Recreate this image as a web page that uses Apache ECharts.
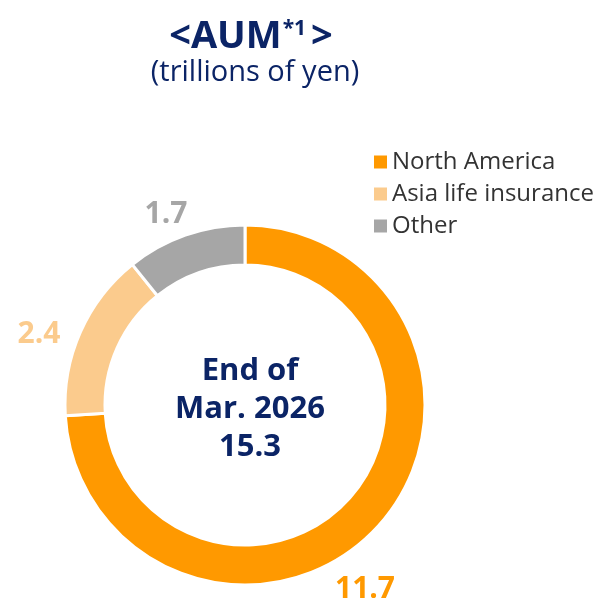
<!DOCTYPE html>
<html><head><meta charset="utf-8">
<script src="https://cdn.jsdelivr.net/npm/echarts@6/dist/echarts.min.js"></script>
<style>html,body{margin:0;padding:0;background:#fff}#c{width:602px;height:603px}</style>
</head><body><div id="c"></div>
<script>
const categories = ['North America', 'Asia life insurance', 'Other'];
const values = [11.7, 2.4, 1.7];
const colors = ['#FF9900', '#FBCB8D', '#A6A6A6'];
const centerLines = ['End of', 'Mar. 2026', '15.3'];
const titleMain = '<AUM';
const titleSup = '*1';
const subtitle = '(trillions of yen)';

const labelPos = [[365, 589], [39, 334], [166, 214]];
const navy = '#0B2466';
const font = '"Open Sans", "Noto Sans", sans-serif';

const chart = echarts.init(document.getElementById('c'));
chart.setOption({
  animation: false,
  title: [{
    text: '{a|' + titleMain + '}{s|' + titleSup + '}{a|>}',
    left: 246, top: 3, textAlign: 'center',
    textStyle: { rich: {
      a: { fontFamily: font, fontSize: 38, fontWeight: 'bold', color: navy, verticalAlign: 'bottom', lineHeight: 48 },
      s: { fontFamily: font, fontSize: 21, fontWeight: 'bold', color: navy, verticalAlign: 'bottom', lineHeight: 24, padding: [0, 5, 16, 1] }
    } }
  }, {
    text: subtitle, left: 250, top: 53, textAlign: 'center',
    textStyle: { fontFamily: font, fontSize: 29, fontWeight: 'normal', color: navy }
  }, {
    text: centerLines.join('\n'), left: 245, top: 347, textAlign: 'center',
    textStyle: { fontFamily: font, fontSize: 31, fontWeight: 'bold', color: navy, lineHeight: 38 }
  }],
  legend: {
    orient: 'vertical', left: 367, top: 145,
    icon: 'rect', itemWidth: 15, itemHeight: 15, itemGap: 8,
    textStyle: { fontFamily: font, fontSize: 24, color: '#333', padding: [0, 0, 0, -1] },
    data: categories
  },
  series: [{
    type: 'pie',
    center: [245, 405],
    radius: [140, 180],
    startAngle: 90,
    clockwise: true,
    avoidLabelOverlap: false,
    itemStyle: { borderColor: '#fff', borderWidth: 3 },
    label: {
      show: true, position: 'outside',
      fontFamily: font, fontSize: 30, fontWeight: 'bold',
      formatter: p => p.value.toFixed(1),
      color: 'inherit'
    },
    labelLine: { show: false },
    labelLayout: p => ({ x: labelPos[p.dataIndex][0], y: labelPos[p.dataIndex][1], align: 'center', verticalAlign: 'middle' }),
    emphasis: { disabled: true },
    data: categories.map((n, i) => ({ name: n, value: values[i], itemStyle: { color: colors[i] }, label: { color: colors[i] } }))
  }]
});
</script></body></html>
